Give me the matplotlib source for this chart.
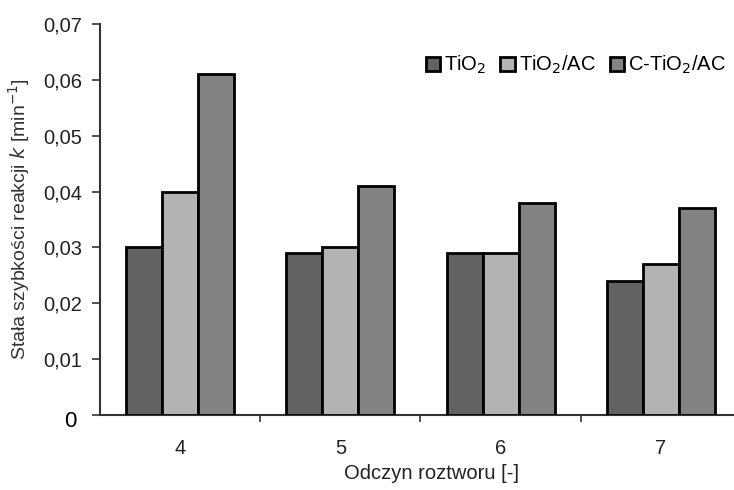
import numpy as np
import matplotlib
matplotlib.use("Agg")
import matplotlib.pyplot as plt
from matplotlib.ticker import FuncFormatter

plt.rcParams['font.family'] = ['Liberation Sans', 'DejaVu Sans']

# dane
odczyn = ["4", "5", "6", "7"]
tio2 = [0.030, 0.029, 0.029, 0.024]
tio2_ac = [0.040, 0.030, 0.029, 0.027]
c_tio2_ac = [0.061, 0.041, 0.038, 0.037]
serie = ["TiO$_2$", "TiO$_2$/AC", "C-TiO$_2$/AC"]
kolory = ["#626262", "#b3b3b3", "#838383"]

fig = plt.figure(figsize=(7.34, 4.9), dpi=100)
ax = fig.add_axes([100/734, 1 - 415/490, 641/734, (415 - 24)/490])

x = np.arange(len(odczyn))
w = 0.225
for i, (vals, lab, col) in enumerate(zip([tio2, tio2_ac, c_tio2_ac], serie, kolory)):
    ax.bar(x + (i - 1) * w, vals, width=w, color=col, edgecolor="black",
           linewidth=2, label=lab, zorder=3)

ax.set_xlim(-0.5, 3.5)
ax.set_ylim(0, 0.07)
ax.set_yticks(np.arange(0, 0.071, 0.01))
ax.yaxis.set_major_formatter(FuncFormatter(lambda v, p: "" if v < 1e-9 else ("%.2f" % v).replace(".", ",")))
ax.set_xticks(x)
ax.set_xticklabels(odczyn)
ax.set_xticks(x[:-1] + 0.5, minor=True)
ax.tick_params(axis="x", which="major", length=0, pad=17, labelsize=14.5, colors="#222222")
ax.tick_params(axis="x", which="minor", length=5, width=1.2, direction="out", color="#333333")
ax.tick_params(axis="y", length=6, width=1.2, direction="out", labelsize=14.5, colors="#333333", labelcolor="#222222", pad=7)

ax.spines['top'].set_visible(False)
ax.spines['right'].set_visible(False)
for s in ["left", "bottom"]:
    ax.spines[s].set_linewidth(1.5)
    ax.spines[s].set_color("#333333")

fig.text(70/734, 1 - 421/490, "0", fontsize=16, ha="center", va="center", color="black")

ax.set_xlabel("Odczyn roztworu [-]", fontsize=14.5, color="#222222", labelpad=5)
ax.xaxis.set_label_coords((432 - 100) / 641, -0.125)
ax.set_ylabel("Stała szybkości reakcji $k$ [min$^{-1}$]", fontsize=14, color="#333333", labelpad=8)

ax.legend(loc="upper right", bbox_to_anchor=(0.995, 0.955), ncol=3, frameon=False,
          fontsize=14.5, handlelength=0.7, handleheight=0.7, handletextpad=0.2,
          columnspacing=0.7, borderaxespad=0.2)

plt.savefig("out.png", dpi=100)
